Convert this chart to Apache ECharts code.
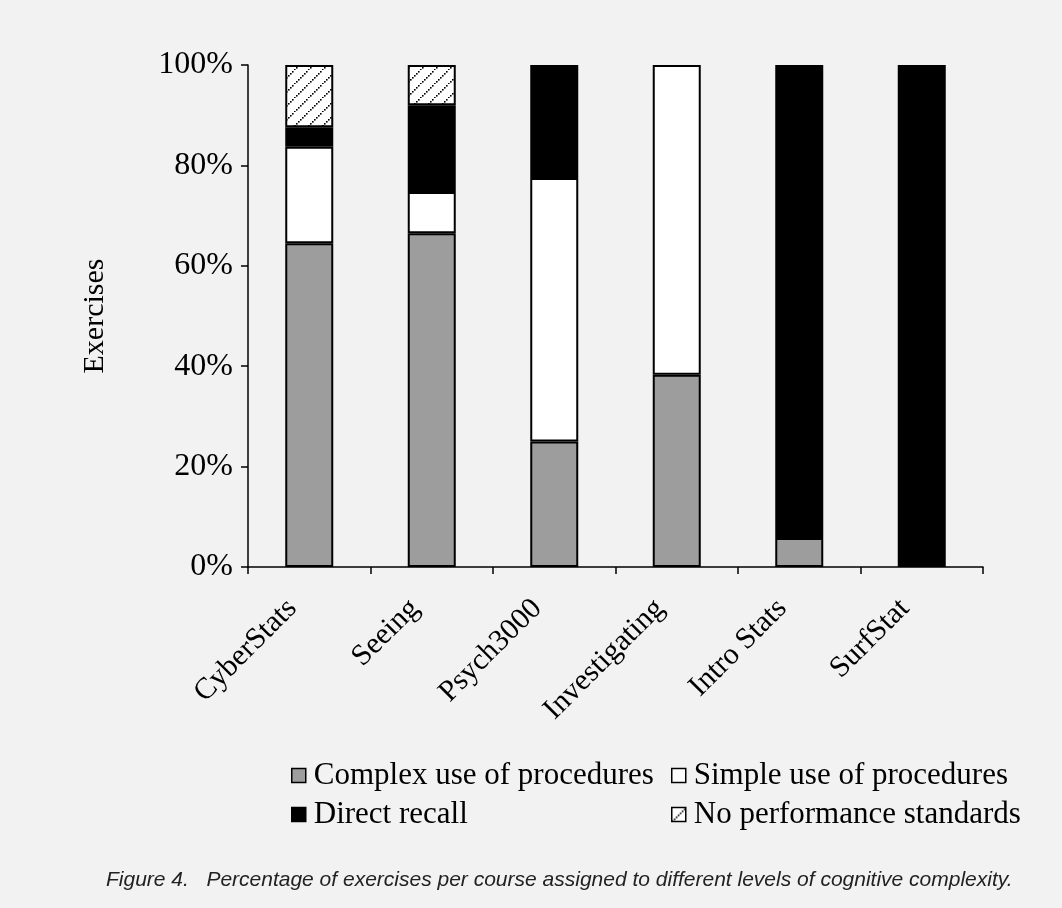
<!DOCTYPE html>
<html>
<head>
<meta charset="utf-8">
<title>Cognitive complexity of exercises</title>
<script src="https://cdn.jsdelivr.net/npm/echarts@6/dist/echarts.min.js"></script>
<style>
  html, body { margin: 0; padding: 0; background: #f2f2f2; }
  #chart { width: 1062px; height: 908px; }
</style>
</head>
<body>
<div id="chart"></div>
<script>
// courses along the x axis
var courses = ["CyberStats", "Seeing", "Psych3000", "Investigating", "Intro Stats", "SurfStat"];
// percent of exercises per level
var complexUse = [64.5, 66.5, 25.0, 38.3, 5.8, 0];
var simpleUse  = [19.2, 8.2, 52.5, 61.7, 0, 0];
var directRecall = [3.9, 17.3, 22.5, 0, 94.2, 100];
var noStandards  = [12.4, 8.0, 0, 0, 0, 0];
var yTicks = [0, 20, 40, 60, 80, 100];

var serif = "'Liberation Serif', 'Times New Roman', serif";

// hatch pattern: dotted diagonal lines on white
function makeHatch() {
  var c = document.createElement("canvas");
  c.width = 14; c.height = 14;
  var ctx = c.getContext("2d");
  ctx.fillStyle = "#ffffff";
  ctx.fillRect(0, 0, 14, 14);
  ctx.fillStyle = "#000000";
  for (var i = 0; i < 14; i += 2) {
    ctx.fillRect(i, 13 - i, 1.6, 1.6);
  }
  return c;
}
var hatch = makeHatch();

// zero segments are left out so they don't draw a stray border line
function noZero(arr) {
  return arr.map(function (v) { return v === 0 ? "-" : v; });
}

var myChart = echarts.init(document.getElementById("chart"));

var barStyle = function (fill) {
  return { color: fill, borderColor: "#000", borderWidth: 2 };
};

var option = {
  backgroundColor: "#f2f2f2",
  animation: false,
  grid: { left: 248, right: 79, top: 65, bottom: 341 },
  legend: [
    {
      data: ["Complex use of procedures", "Direct recall"],
      orient: "vertical",
      left: 286, top: 755,
      itemWidth: 14, itemHeight: 14, itemGap: 8,
      icon: "rect",
      itemStyle: { borderWidth: 1.5 },
      textStyle: { fontFamily: serif, fontSize: 31, color: "#000", padding: [0, 0, 0, 3] }
    },
    {
      data: ["Simple use of procedures", "No performance standards"],
      orient: "vertical",
      left: 666, top: 755,
      itemWidth: 14, itemHeight: 14, itemGap: 8,
      icon: "rect",
      itemStyle: { borderWidth: 1.5 },
      textStyle: { fontFamily: serif, fontSize: 31, color: "#000", padding: [0, 0, 0, 3] }
    }
  ],
  xAxis: {
    type: "category",
    data: courses,
    axisLine: { lineStyle: { color: "#000", width: 1.5 } },
    axisTick: { show: true, length: 7, lineStyle: { color: "#000", width: 1.5 } },
    axisLabel: {
      rotate: 45,
      margin: 20,
      padding: [0, 24, 0, 0],
      fontFamily: serif,
      fontSize: 30,
      color: "#000",
      interval: 0
    }
  },
  yAxis: {
    type: "value",
    min: 0, max: 100, interval: 20,
    name: "Exercises",
    nameLocation: "middle",
    nameGap: 138,
    nameTextStyle: { fontFamily: serif, fontSize: 30, color: "#000" },
    axisLine: { show: true, lineStyle: { color: "#000", width: 1.5 } },
    axisTick: { show: true, length: 7, lineStyle: { color: "#000", width: 1.5 } },
    splitLine: { show: false },
    axisLabel: {
      margin: 15,
      fontFamily: serif,
      fontSize: 32,
      color: "#000",
      formatter: function (v) { return yTicks.indexOf(v) >= 0 ? v + "%" : ""; }
    }
  },
  series: [
    {
      name: "Complex use of procedures", type: "bar", stack: "all", barWidth: 48,
      data: noZero(complexUse), itemStyle: barStyle("#9d9d9d")
    },
    {
      name: "Simple use of procedures", type: "bar", stack: "all", barWidth: 48,
      data: noZero(simpleUse), itemStyle: barStyle("#ffffff")
    },
    {
      name: "Direct recall", type: "bar", stack: "all", barWidth: 48,
      data: noZero(directRecall), itemStyle: barStyle("#000000")
    },
    {
      name: "No performance standards", type: "bar", stack: "all", barWidth: 48,
      data: noZero(noStandards),
      itemStyle: barStyle({ image: hatch, repeat: "repeat" })
    }
  ],
  graphic: [
    {
      type: "text",
      left: 106, top: 870,
      style: {
        text: "Figure 4.   Percentage of exercises per course assigned to different levels of cognitive complexity.",
        font: "italic 21px 'Liberation Sans', Arial, sans-serif",
        fill: "#222"
      }
    }
  ]
};

myChart.setOption(option);
</script>
</body>
</html>
